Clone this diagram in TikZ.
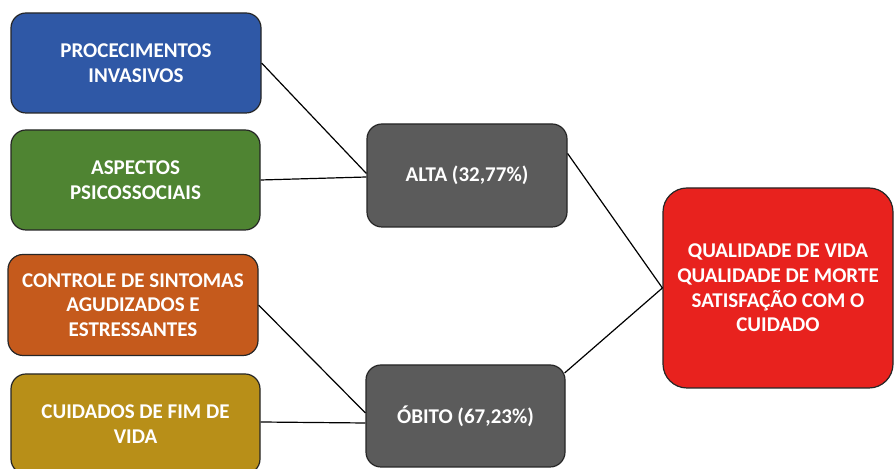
\documentclass[tikz,border=0pt]{standalone}
\usepackage{fontspec}
\setmainfont{Carlito}
\definecolor{cblue}{HTML}{2F58A6}
\definecolor{cgreen}{HTML}{4F8432}
\definecolor{corange}{HTML}{C55A1C}
\definecolor{cgold}{HTML}{B88F18}
\definecolor{cgray}{HTML}{5B5B5B}
\definecolor{cred}{HTML}{E8221E}
\tikzset{
  box/.style={draw=black!85, line width=0.6pt, rounded corners=7.5pt, align=center,
    text=white, font=\bfseries\fontsize{10.5}{12.3}\selectfont, inner sep=2pt},
  link/.style={draw=black, line width=0.6pt}
}
\begin{document}
\begin{tikzpicture}[x=0.5pt,y=-0.5pt]
\useasboundingbox[fill=white] (0,0) rectangle (895,469);
\node[box, fill=cblue, minimum width=125pt, minimum height=50pt] (blue) at (136,63) {PROCECIMENTOS\\INVASIVOS};
\node[box, fill=cgreen, minimum width=124.5pt, minimum height=50pt] (green) at (135.5,180) {ASPECTOS\\PSICOSSOCIAIS};
\node[box, fill=corange, minimum width=125pt, minimum height=50.5pt] (orange) at (133,305) {CONTROLE DE SINTOMAS\\AGUDIZADOS E\\ESTRESSANTES};
\node[box, fill=cgold, minimum width=124.5pt, minimum height=50pt] (gold) at (135.5,424) {CUIDADOS DE FIM DE\\VIDA};
\node[box, fill=cgray, minimum width=100pt, minimum height=51.5pt] (alta) at (467,175.5) {ALTA (32,77\%)};
\node[box, fill=cgray, minimum width=99.5pt, minimum height=51pt] (obito) at (465.5,416) {ÓBITO (67,23\%)};
\node[box, fill=cred, rounded corners=12pt, minimum width=115pt, minimum height=100pt] (red) at (778,288) {QUALIDADE DE VIDA\\QUALIDADE DE MORTE\\SATISFAÇÃO COM O\\CUIDADO};
\coordinate (altaIn) at ([yshift=1pt]alta.west);
\coordinate (altaIn2) at ([yshift=-0.75pt]alta.west);
\coordinate (obitoIn) at ([yshift=1.5pt]obito.west);
\coordinate (obitoIn2) at ([yshift=-3.5pt]obito.west);
\coordinate (altaOut) at ([yshift=11pt]alta.east);
\coordinate (obitoOut) at ([xshift=-0.5pt,yshift=21.5pt]obito.east);
\draw[link] (blue.east) -- (altaIn);
\draw[link] (green.east) -- (altaIn2);
\draw[link] (orange.east) -- (obitoIn);
\draw[link] ([yshift=1pt]gold.east) -- (obitoIn2);
\draw[link] (altaOut) -- (red.west);
\draw[link] (obitoOut) -- (red.west);
\end{tikzpicture}
\end{document}
